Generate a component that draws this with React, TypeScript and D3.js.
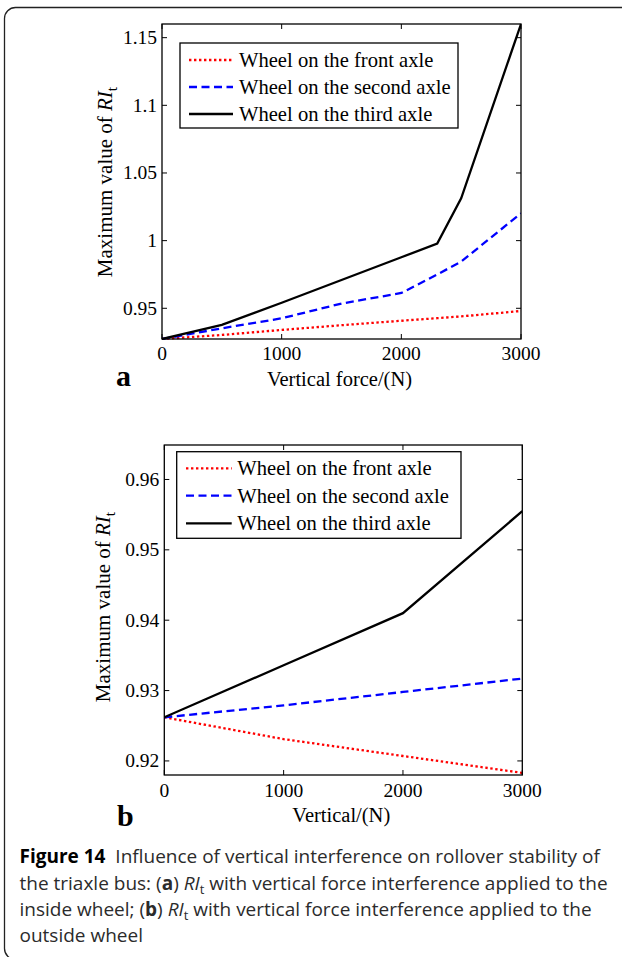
import React from "react";
import * as d3 from "d3";

const forceA = [0, 500, 1000, 1500, 2000, 2300, 2500, 3000];
const frontA = [0.9273, 0.9303, 0.934, 0.9375, 0.9408, 0.9427, 0.944, 0.948];
const secondA = [0.9273, 0.9352, 0.9426, 0.9535, 0.9613, 0.975, 0.9845, 1.0202];
const thirdA = [0.9273, 0.9377, 0.9541, 0.9709, 0.9877, 0.9978, 1.0313, 1.1601];

const forceB = [0, 1000, 2000, 3000];
const frontB = [0.9262, 0.9231, 0.9207, 0.9183];
const secondB = [0.9262, 0.9279, 0.9298, 0.9317];
const thirdB = [0.9262, 0.9336, 0.941, 0.9555];

const xTicks = [0, 1000, 2000, 3000];
const yTicksA = [0.95, 1, 1.05, 1.1, 1.15];
const yTickLabelsA = ["0.95", "1", "1.05", "1.1", "1.15"];
const yTicksB = [0.92, 0.93, 0.94, 0.95, 0.96];
const yTickLabelsB = ["0.92", "0.93", "0.94", "0.95", "0.96"];

const seriesNames = ["Wheel on the front axle", "Wheel on the second axle", "Wheel on the third axle"];
const seriesColors = ["#ff0000", "#0000ff", "#000000"];
const seriesDash = ["2.4 2.6", "8 4.5", null];

const SERIF = "'Liberation Serif', 'Times New Roman', serif";
const SANS = "'Open Sans', 'Noto Sans', sans-serif";

type PanelProps = {
  x0: number; x1: number; y0: number; y1: number;
  yDomain: [number, number];
  forces: number[];
  series: number[][];
  yTicks: number[];
  yTickLabels: string[];
  xTitle: string;
  letter: string;
  letterX: number; letterY: number;
  xTitleY: number; xTickY: number;
  yTitleX: number; yTitleY: number;
  legend: { x0: number; x1: number; y0: number; y1: number; rows: number[]; s0: number; s1: number; tx: number };
};

function Panel(p: PanelProps) {
  const x = d3.scaleLinear().domain([0, 3000]).range([p.x0, p.x1]);
  const y = d3.scaleLinear().domain(p.yDomain).range([p.y1, p.y0]);
  const tl = 5;
  const clipId = "clip" + p.letter;
  return (
    <g>
      <defs>
        <clipPath id={clipId}>
          <rect x={p.x0} y={p.y0 - 1} width={p.x1 - p.x0} height={p.y1 - p.y0 + 2} />
        </clipPath>
      </defs>
      <g clipPath={`url(#${clipId})`}>
        {p.series.map((vals, i) => {
          const line = d3
            .line<number>()
            .x((_, j) => x(p.forces[j]))
            .y((v) => y(v));
          return (
            <path
              key={i}
              d={line(vals) || ""}
              fill="none"
              stroke={seriesColors[i]}
              strokeWidth={2.3}
              strokeDasharray={seriesDash[i] || undefined}
            />
          );
        })}
      </g>
      <rect x={p.x0} y={p.y0} width={p.x1 - p.x0} height={p.y1 - p.y0} fill="none" stroke="#000" strokeWidth={1.3} />
      {xTicks.map((t) => (
        <g key={"xt" + t}>
          <line x1={x(t)} x2={x(t)} y1={p.y1} y2={p.y1 - tl} stroke="#000" strokeWidth={1} />
          <line x1={x(t)} x2={x(t)} y1={p.y0} y2={p.y0 + tl} stroke="#000" strokeWidth={1} />
          <text x={x(t)} y={p.xTickY} textAnchor="middle" fontFamily={SERIF} fontSize={19.5} fill="#000">
            {String(t)}
          </text>
        </g>
      ))}
      {p.yTicks.map((t, i) => (
        <g key={"yt" + t}>
          <line x1={p.x0} x2={p.x0 + tl} y1={y(t)} y2={y(t)} stroke="#000" strokeWidth={1} />
          <line x1={p.x1} x2={p.x1 - tl} y1={y(t)} y2={y(t)} stroke="#000" strokeWidth={1} />
          <text x={p.x0 - 5} y={y(t) + 6.5} textAnchor="end" fontFamily={SERIF} fontSize={19.5} fill="#000">
            {p.yTickLabels[i]}
          </text>
        </g>
      ))}
      <text x={(p.x0 + p.x1) / 2 - 2} y={p.xTitleY} textAnchor="middle" fontFamily={SERIF} fontSize={20.5} fill="#000">
        {p.xTitle}
      </text>
      <text
        transform={`translate(${p.yTitleX},${p.yTitleY}) rotate(-90)`}
        textAnchor="middle"
        fontFamily={SERIF}
        fontSize={21}
        fill="#000"
      >
        Maximum value of <tspan fontStyle="italic">RI</tspan>
        <tspan fontSize={15.5} dy={5}>t</tspan>
      </text>
      <text x={p.letterX} y={p.letterY} fontFamily={SERIF} fontWeight="bold" fontSize={30} fill="#000">
        {p.letter}
      </text>
      <rect
        x={p.legend.x0}
        y={p.legend.y0}
        width={p.legend.x1 - p.legend.x0}
        height={p.legend.y1 - p.legend.y0}
        fill="#fff"
        stroke="#000"
        strokeWidth={1.3}
      />
      {seriesNames.map((n, i) => (
        <g key={n}>
          <line
            x1={p.legend.s0}
            x2={p.legend.s1}
            y1={p.legend.rows[i]}
            y2={p.legend.rows[i]}
            stroke={seriesColors[i]}
            strokeWidth={2.3}
            strokeDasharray={seriesDash[i] || undefined}
          />
          <text x={p.legend.tx} y={p.legend.rows[i] + 7} fontFamily={SERIF} fontSize={20.6} fill="#000">
            {n}
          </text>
        </g>
      ))}
    </g>
  );
}

export default function App() {
  return (
    <svg
      width={622}
      height={957}
      viewBox="0 0 622 957"
      style={{ position: "absolute", left: 0, top: 0, background: "#fff" }}
    >
      <rect x={0} y={0} width={622} height={957} fill="#fff" />
      <rect x={4.5} y={7.5} width={700} height={952} rx={11} ry={11} fill="none" stroke="#222" strokeWidth={1.3} />
      <Panel
        x0={162}
        x1={521}
        y0={24}
        y1={339}
        yDomain={[0.9273, 1.1601]}
        forces={forceA}
        series={[frontA, secondA, thirdA]}
        yTicks={yTicksA}
        yTickLabels={yTickLabelsA}
        xTitle="Vertical force/(N)"
        letter="a"
        letterX={116}
        letterY={386}
        xTitleY={386}
        xTickY={360}
        yTitleX={112}
        yTitleY={182}
        legend={{ x0: 180, x1: 458, y0: 43, y1: 128, rows: [60, 87, 114], s0: 189, s1: 233, tx: 239 }}
      />
      <Panel
        x0={164.3}
        x1={522.3}
        y0={445}
        y1={775}
        yDomain={[0.918, 0.9649]}
        forces={forceB}
        series={[frontB, secondB, thirdB]}
        yTicks={yTicksB}
        yTickLabels={yTickLabelsB}
        xTitle="Vertical/(N)"
        letter="b"
        letterX={117}
        letterY={826}
        xTitleY={822}
        xTickY={797}
        yTitleX={109.5}
        yTitleY={607}
        legend={{ x0: 176.7, x1: 461, y0: 451.7, y1: 538.3, rows: [468.3, 495.7, 523.3], s0: 186, s1: 231.7, tx: 237.3 }}
      />
      <g fontFamily={SANS} fontSize={19} fill="#2b2b2b">
        <text x={19.5} y={863}>
          <tspan fontWeight="bold" fill="#000">Figure 14</tspan>
          <tspan>{"\u00a0 Influence of vertical interference on rollover stability of"}</tspan>
        </text>
        <text x={19.5} y={889.5}>
          the triaxle bus: (<tspan fontWeight="bold">a</tspan>) <tspan fontStyle="italic">RI</tspan>
          <tspan fontSize={13} dy={4}>t</tspan>
          <tspan dy={-4}> with vertical force interference applied to the</tspan>
        </text>
        <text x={19.5} y={916}>
          inside wheel; (<tspan fontWeight="bold">b</tspan>) <tspan fontStyle="italic">RI</tspan>
          <tspan fontSize={13} dy={4}>t</tspan>
          <tspan dy={-4}> with vertical force interference applied to the</tspan>
        </text>
        <text x={19.5} y={942}>outside wheel</text>
      </g>
    </svg>
  );
}
